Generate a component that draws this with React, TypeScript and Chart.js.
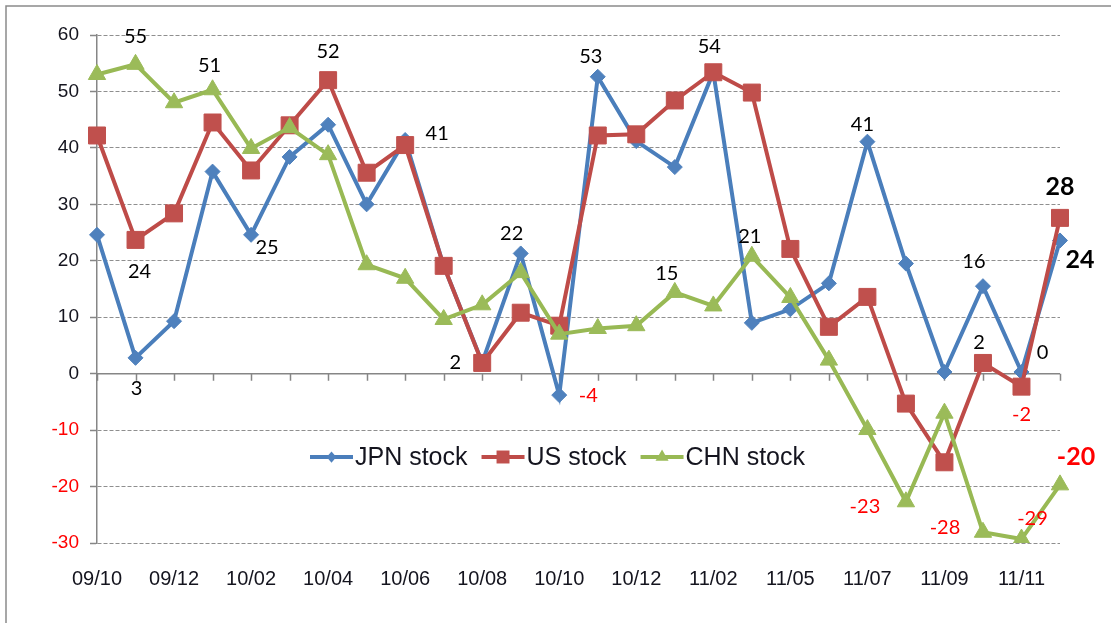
import React, { useEffect, useRef } from 'react';
import { Chart, registerables } from 'chart.js';

Chart.register(...registerables);

const categories = [
  '09/10', '09/11', '09/12', '10/01', '10/02', '10/03', '10/04', '10/05', '10/06', '10/07',
  '10/08', '10/09', '10/10', '10/11', '10/12', '11/01', '11/02', '11/03', '11/05', '11/06',
  '11/07', '11/08', '11/09', '11/10', '11/11', '11/12',
];

const jpnStock = [24.6, 2.8, 9.3, 35.8, 24.6, 38.4, 44.1, 30.0, 41.4, 19.1, 2.0, 21.3, -3.8, 52.6, 41.2, 36.6, 53.4, 9.0, 11.4, 16.0, 41.1, 19.5, 0.3, 15.5, 0.3, 23.6];
const usStock = [42.2, 23.7, 28.4, 44.5, 36.0, 44.0, 52.0, 35.6, 40.5, 19.1, 1.9, 10.8, 8.5, 42.2, 42.4, 48.4, 53.4, 49.8, 22.1, 8.3, 13.6, -5.3, -15.7, 1.9, -2.3, 27.6];
const chnStock = [53.0, 54.8, 48.0, 50.3, 39.9, 43.6, 38.8, 19.3, 16.9, 9.6, 12.2, 17.9, 7.0, 8.0, 8.5, 14.4, 12.0, 20.8, 13.5, 2.4, -9.9, -22.7, -7.0, -28.1, -29.3, -19.7];

const seriesNames = ['JPN stock', 'US stock', 'CHN stock'];
const seriesValues = [jpnStock, usStock, chnStock];

const yMin = -30;
const yMax = 60;
const yStep = 10;

// [series, point index, text, dx, dy, bold]
const dataLabels: [number, number, string, number, number, boolean][] = [
  [2, 1, '55', 0, -28, false],
  [2, 3, '51', -3, -24, false],
  [0, 1, '3', 1, 31, false],
  [1, 1, '24', 4, 32, false],
  [0, 4, '25', 16, 13, false],
  [1, 6, '52', 0, -29, false],
  [0, 8, '41', 32, -6, false],
  [0, 10, '2', -27, 0, false],
  [0, 11, '22', -9, -20, false],
  [0, 12, '-4', 29, 0, false],
  [0, 13, '53', -7, -20, false],
  [0, 16, '54', -4, -26, false],
  [2, 15, '15', -8, -19, false],
  [2, 17, '21', -2, -20, false],
  [0, 20, '41', -5, -17, false],
  [2, 21, '-23', -41, 5, false],
  [2, 23, '-28', -38, -5, false],
  [0, 23, '16', -9, -25, false],
  [1, 23, '2', -4, -20, false],
  [0, 24, '0', 21, -19, false],
  [1, 24, '-2', 0, 28, false],
  [2, 24, '-29', 11, -21, false],
  [1, 25, '28', 0, -31, true],
  [0, 25, '24', 20, 19, true],
  [2, 25, '-20', 16, -28, true],
];

const lineColors = ['#4a7ebb', '#be4b48', '#98b954'];
const markerColors = ['#4f81bd', '#c0504d', '#9bbb59'];
const markerStyles = ['rectRot', 'rect', 'triangle'];
const markerRadii = [7.5, 12, 10];

const FONT = "'Liberation Sans', Arial, sans-serif";
const LABEL_FONT = "Lato, 'Liberation Sans', sans-serif";
const TEXT = '#14141e';
const RED = '#ff0000';
const AXIS = '#868686';
const GRID = '#8f8f8f';

const decorPlugin = {
  id: 'decor',
  beforeDatasetsDraw(chart: any) {
    const { ctx, chartArea, scales } = chart;
    const y0 = scales.y.getPixelForValue(0);
    ctx.save();
    ctx.strokeStyle = AXIS;
    ctx.lineWidth = 1.5;
    ctx.beginPath();
    ctx.moveTo(chartArea.left, y0);
    ctx.lineTo(chartArea.right, y0);
    for (let i = 0; i < categories.length; i++) {
      const x = Math.round(scales.x.getPixelForValue(i)) + 0.5;
      ctx.moveTo(x, y0);
      ctx.lineTo(x, y0 + 7);
    }
    ctx.stroke();
    ctx.restore();
  },
  afterDatasetsDraw(chart: any) {
    const { ctx } = chart;
    ctx.save();
    ctx.textAlign = 'center';
    ctx.textBaseline = 'middle';
    for (const [s, i, text, dx, dy, bold] of dataLabels) {
      const el = chart.getDatasetMeta(s).data[i];
      if (!el) continue;
      ctx.font = bold ? `bold 25px ${LABEL_FONT}` : `20px ${LABEL_FONT}`;
      ctx.fillStyle = text.startsWith('-') ? RED : '#000';
      ctx.fillText(text, el.x + dx, el.y + dy);
    }
    ctx.restore();
  },
  afterDraw(chart: any) {
    const { ctx } = chart;
    ctx.save();
    // outer frame (left & top visible)
    ctx.strokeStyle = '#8a8a8a';
    ctx.lineWidth = 1.5;
    ctx.beginPath();
    ctx.moveTo(6, 623);
    ctx.lineTo(6, 6);
    ctx.lineTo(1111, 6);
    ctx.stroke();

    // legend
    const ly = 457;
    let x = 310;
    ctx.font = `25px ${FONT}`;
    ctx.textBaseline = 'middle';
    ctx.textAlign = 'left';
    for (let s = 0; s < seriesNames.length; s++) {
      ctx.strokeStyle = lineColors[s];
      ctx.lineWidth = 4;
      ctx.beginPath();
      ctx.moveTo(x, ly);
      ctx.lineTo(x + 43, ly);
      ctx.stroke();
      const style = markerStyles[s];
      const r = markerRadii[s] * 0.75;
      const mx = x + 21.5;
      ctx.fillStyle = markerColors[s];
      ctx.beginPath();
      if (style === 'rectRot') {
        ctx.moveTo(mx, ly - r);
        ctx.lineTo(mx + r * 0.85, ly);
        ctx.lineTo(mx, ly + r);
        ctx.lineTo(mx - r * 0.85, ly);
      } else if (style === 'rect') {
        const h = r * 0.72;
        ctx.rect(mx - h, ly - h, 2 * h, 2 * h);
      } else {
        ctx.moveTo(mx, ly - r);
        ctx.lineTo(mx + r * 0.87, ly + r * 0.5);
        ctx.lineTo(mx - r * 0.87, ly + r * 0.5);
      }
      ctx.closePath();
      ctx.fill();
      ctx.fillStyle = TEXT;
      const tx = x + 45;
      ctx.fillText(seriesNames[s], tx, ly + 1);
      x = tx + ctx.measureText(seriesNames[s]).width + 14;
    }
    ctx.restore();
  },
};

export default function App() {
  const canvasRef = useRef<HTMLCanvasElement | null>(null);

  useEffect(() => {
    const canvas = canvasRef.current;
    if (!canvas) return;
    const datasets = seriesValues.map((vals, s) => ({
      label: seriesNames[s],
      data: vals,
      borderColor: lineColors[s],
      backgroundColor: markerColors[s],
      borderWidth: 4,
      pointStyle: markerStyles[s] as any,
      pointRadius: markerRadii[s],
      pointBackgroundColor: markerColors[s],
      pointBorderColor: markerColors[s],
      pointBorderWidth: 1,
      tension: 0,
      fill: false,
      order: 3 - s,
    }));
    const chart = new Chart(canvas, {
      type: 'line',
      data: { labels: categories, datasets },
      options: {
        responsive: false,
        animation: false,
        devicePixelRatio: 1,
        layout: { padding: { top: 35, right: 51, left: 0, bottom: 0 } },
        plugins: { legend: { display: false }, tooltip: { enabled: false } },
        scales: {
          x: {
            type: 'category',
            offset: false,
            grid: { display: false, drawTicks: false },
            border: { display: false },
            ticks: {
              autoSkip: false,
              maxRotation: 0,
              minRotation: 0,
              padding: 24,
              color: TEXT,
              font: { family: FONT, size: 20 },
              callback: (_v: any, i: number) => (i % 2 === 0 ? categories[i] : ''),
            },
            afterFit: (scale: any) => {
              scale.height = 80;
            },
          },
          y: {
            min: yMin,
            max: yMax,
            grid: {
              color: (c: any) => (c.tick && c.tick.value === 0 ? 'rgba(0,0,0,0)' : GRID),
              lineWidth: 1,
              tickLength: 7,
              tickColor: AXIS,
              tickWidth: 1.5,
            },
            border: { display: true, color: AXIS, width: 1.5, dash: [4, 2] },
            ticks: {
              stepSize: yStep,
              padding: 11,
              color: (c: any) => (c.tick && c.tick.value < 0 ? RED : TEXT),
              font: { family: FONT, size: 19 },
            },
            afterFit: (scale: any) => {
              scale.width = 97;
            },
          },
        },
      },
      plugins: [decorPlugin],
    });
    return () => chart.destroy();
  }, []);

  return (
    <div style={{ position: 'absolute', left: 0, top: 0, width: 1111, height: 623, background: '#fff' }}>
      <canvas ref={canvasRef} width={1111} height={623} style={{ display: 'block', width: 1111, height: 623 }} />
    </div>
  );
}
